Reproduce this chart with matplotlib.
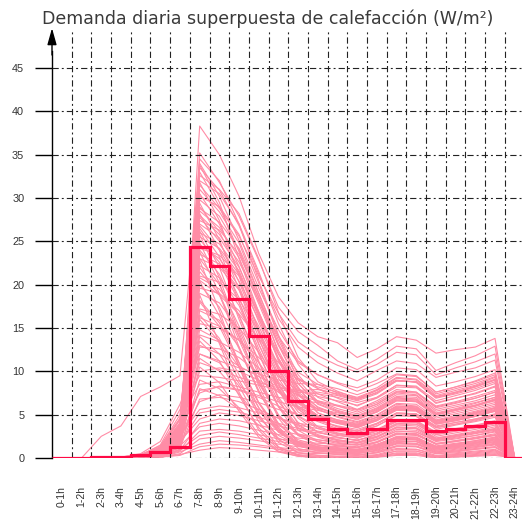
import numpy as np
import matplotlib
matplotlib.use("Agg")
import matplotlib.pyplot as plt

plt.rcParams['font.family'] = ['Liberation Sans', 'DejaVu Sans']
plt.rcParams['lines.scale_dashes'] = False

title = "Demanda diaria superpuesta de calefacción (W/m²)"
hours = ["0-1h", "1-2h", "2-3h", "3-4h", "4-5h", "5-6h", "6-7h", "7-8h", "8-9h",
         "9-10h", "10-11h", "11-12h", "12-13h", "13-14h", "14-15h", "15-16h",
         "16-17h", "17-18h", "18-19h", "19-20h", "20-21h", "21-22h", "22-23h", "23-24h"]
y_ticks = [0, 5, 10, 15, 20, 25, 30, 35, 40, 45]

# average (thick step line)
average = [0, 0.03, 0.08, 0.15, 0.35, 0.75, 1.3, 24.3, 22.1, 18.3, 14.1, 10.0, 6.6,
           4.46, 3.3, 2.9, 3.3, 4.4, 4.4, 3.1, 3.4, 3.7, 4.1, 0]

# individual daily profiles (thin lines)
daily_profiles = [
    [0,0,0,0,0.1,0.3,1.5,38.3,35.0,30.2,23.6,18.6,15.6,14.0,13.3,11.6,12.6,14.0,13.6,12.1,12.5,12.8,13.8,0],
    [0,0,0,0,0.1,0.5,2.2,35.2,31.8,27.9,22.8,17.4,14.6,13.0,11.2,10.2,11.4,12.9,12.6,10.1,11.0,11.8,12.9,0],
    [0,0,2.5,3.7,7.1,8.2,9.5,33.5,30.9,26.8,21.2,16.1,12.8,11.0,9.8,8.9,10.1,11.2,10.9,9.3,9.9,10.4,11.3,0],
    [0,0,0,0.1,0.4,1.2,3.5,34.0,30.2,25.1,19.6,14.8,11.2,9.6,8.6,7.7,8.6,9.7,9.5,7.6,8.2,8.9,9.8,0],
    [0,0,0,0,0.2,0.8,2.9,33.0,29.0,23.8,18.1,13.0,9.9,8.5,7.5,6.8,7.8,9.0,8.7,6.9,7.4,8.0,8.8,0],
    [0,0,0,0,0.1,0.5,2.4,32.0,30.5,27.0,21.5,15.5,10.8,8.0,6.9,6.0,7.0,8.4,8.2,6.3,6.9,7.4,8.2,0],
    [0,0,0,0.1,0.3,1.0,3.8,31.0,28.4,24.8,19.0,13.6,9.2,7.4,6.5,5.6,6.6,7.9,7.6,5.9,6.4,6.9,7.6,0],
    [0,0,0,0,0.2,0.7,2.6,30.5,27.0,22.1,16.4,11.5,8.0,6.6,5.7,5.1,6.0,7.3,7.2,5.4,5.9,6.4,7.0,0],
    [0,0,0,0,0.1,0.4,1.9,29.8,27.9,24.0,18.5,12.1,7.6,5.9,5.0,4.5,5.4,6.7,6.6,5.0,5.5,6.0,6.6,0],
    [0,0,0,0,0.3,1.1,4.4,29.0,26.1,21.4,15.7,10.6,7.2,5.6,4.8,4.2,5.0,6.3,6.2,4.6,5.1,5.6,6.2,0],
    [0,0,0,0,0.1,0.6,2.7,28.5,26.6,23.1,17.8,12.4,8.2,5.2,4.3,3.8,4.7,6.0,5.9,4.3,4.7,5.3,5.8,0],
    [0,0,0,0,0.2,0.9,3.2,27.8,25.0,20.3,14.8,9.7,6.4,4.9,4.1,3.5,4.4,5.6,5.5,4.0,4.4,4.9,5.4,0],
    [0,0,0,0,0.1,0.5,2.1,27.0,25.4,22.0,16.9,11.2,6.9,4.5,3.6,3.1,4.0,5.2,5.1,3.6,4.1,4.5,5.0,0],
    [0,0,0,0,0.3,1.3,5.0,26.5,23.2,18.5,13.1,8.4,5.3,4.2,3.4,2.9,3.7,4.9,4.8,3.3,3.8,4.2,4.7,0],
    [0,0,0,0,0.1,0.4,1.8,26.0,24.7,21.6,16.2,10.1,5.7,3.6,2.8,2.4,3.2,4.4,4.3,2.9,3.4,3.8,4.3,0],
    [0,0,0,0,0.2,0.8,3.0,25.2,22.6,18.0,12.6,7.8,4.8,3.4,2.7,2.3,3.1,4.2,4.1,2.7,3.1,3.6,4.0,0],
    [0,0,0,0,0.1,0.5,2.3,24.6,23.0,19.8,14.4,8.6,4.6,3.0,2.4,2.0,2.8,3.9,3.9,2.5,2.9,3.3,3.8,0],
    [0,0,0,0,0.2,0.9,3.6,24.0,21.2,16.4,11.0,6.5,3.7,2.7,2.1,1.8,2.5,3.6,3.5,2.2,2.6,3.0,3.4,0],
    [0,0,0,0,0.1,0.4,1.6,23.5,22.4,19.5,13.9,7.9,3.9,2.4,1.8,1.5,2.2,3.3,3.2,2.0,2.4,2.8,3.2,0],
    [0,0,0,0,0.3,1.0,4.0,23.0,20.0,15.2,10.0,5.9,3.4,2.5,2.0,1.7,2.4,3.5,3.4,2.1,2.5,2.9,3.3,0],
    [0,0,0,0,0.1,0.6,2.5,22.2,20.8,17.6,12.2,6.8,3.2,1.9,1.4,1.2,1.8,2.8,2.8,1.6,2.0,2.3,2.7,0],
    [0,0,0,0,0.2,0.8,3.3,21.5,18.9,14.0,9.0,5.0,2.7,1.9,1.4,1.2,1.8,2.8,2.7,1.6,1.9,2.3,2.6,0],
    [0,0,0,0,0.1,0.5,2.0,20.8,19.5,16.5,11.2,5.9,2.6,1.5,1.1,0.9,1.5,2.4,2.4,1.3,1.6,1.9,2.3,0],
    [0,0,0,0,0.2,0.7,2.8,20.0,17.4,12.6,7.6,3.9,1.9,1.3,0.9,0.8,1.3,2.2,2.1,1.1,1.4,1.7,2.0,0],
    [0,0,0,0,0.1,0.4,1.7,19.0,17.9,14.8,9.6,4.6,1.8,1.0,0.7,0.6,1.1,1.9,1.9,0.9,1.2,1.5,1.8,0],
    [0,0,0,0,0.2,0.9,3.1,18.2,15.6,11.0,6.3,3.0,1.4,0.9,0.6,0.5,0.9,1.7,1.6,0.8,1.0,1.3,1.6,0],
    [0,0,0,0,0.1,0.5,2.2,17.0,15.9,12.8,7.8,3.4,1.1,0.6,0.4,0.3,0.7,1.4,1.4,0.6,0.8,1.1,1.3,0],
    [0,0,0,0,0.1,0.6,2.6,16.0,13.4,9.0,4.9,2.1,0.9,0.6,0.4,0.3,0.6,1.3,1.3,0.5,0.7,1.0,1.2,0],
    [0,0,0,0,0.1,0.3,1.5,14.8,13.6,10.5,5.8,2.2,0.6,0.3,0.2,0.2,0.4,1.0,1.0,0.3,0.5,0.7,0.9,0],
    [0,0,0,0,0.1,0.5,2.0,13.5,11.2,7.2,3.5,1.2,0.4,0.2,0.1,0.1,0.3,0.8,0.8,0.2,0.4,0.6,0.8,0],
    [0,0,0,0,0.1,0.3,1.2,12.0,11.0,8.3,4.2,1.3,0.3,0.1,0.1,0,0.2,0.6,0.6,0.1,0.3,0.4,0.6,0],
    [0,0,0,0,0.1,0.4,1.6,10.5,8.7,5.4,2.4,0.7,0.2,0.1,0,0,0.1,0.4,0.4,0.1,0.2,0.3,0.4,0],
    [0,0,0,0,0,0.2,1.0,9.0,8.0,5.8,2.7,0.8,0.2,0,0,0,0.1,0.3,0.3,0,0.1,0.2,0.3,0],
    [0,0,0,0,0.2,1.0,3.8,13.0,12.0,10.6,9.4,8.2,7.6,7.4,7.0,6.4,7.0,8.4,8.3,6.6,7.2,7.8,8.6,0],
    [0,0,0,0,0.1,0.7,3.0,11.0,10.2,9.3,8.7,8.1,7.8,7.9,7.4,6.8,7.5,8.9,8.8,7.0,7.5,8.2,9.0,0],
    [0,0,0,0.1,0.4,1.4,4.6,8.5,8.8,8.2,7.6,7.0,6.6,6.4,6.0,5.5,6.2,7.6,7.5,5.8,6.3,6.9,7.6,0],
    [0,0,0,0,0.2,0.9,3.4,7.5,8.3,7.9,7.2,6.5,5.9,5.5,5.0,4.6,5.3,6.6,6.5,5.0,5.5,6.0,6.7,0],
    [0,0,0,0,0.1,0.5,2.4,6.5,7.3,7.0,6.4,5.6,5.0,4.6,4.2,3.8,4.5,5.8,5.7,4.3,4.7,5.2,5.8,0],
    [0,0,0,0,0.1,0.6,2.6,5.6,6.0,5.8,5.2,4.6,4.0,3.7,3.4,3.1,3.7,4.9,4.8,3.5,3.9,4.3,4.9,0],
    [0,0,0,0,0.1,0.4,1.9,4.5,5.2,4.9,4.3,3.7,3.2,2.9,2.6,2.3,2.9,4.0,3.9,2.7,3.1,3.5,4.0,0],
    [0,0,0,0,0,0.3,1.4,3.6,4.0,3.7,3.2,2.7,2.3,2.1,1.9,1.7,2.2,3.1,3.0,2.0,2.3,2.6,3.1,0],
    [0,0,0,0,0,0.2,1.0,2.6,3.0,2.7,2.3,1.9,1.6,1.5,1.3,1.2,1.6,2.4,2.3,1.4,1.7,2.0,2.4,0],
    [0,0,0,0,0,0.1,0.7,1.6,2.0,1.8,1.5,1.2,1.0,0.9,0.8,0.7,1.0,1.7,1.6,0.9,1.1,1.3,1.6,0],
    [0,0,0,0,0,0.1,0.4,0.9,1.2,1.1,0.9,0.7,0.6,0.5,0.5,0.4,0.6,1.1,1.0,0.5,0.6,0.8,1.0,0],
    [0,0,0,0,0.1,0.6,2.8,31.5,28.8,25.6,21.0,16.7,13.4,11.8,10.7,9.9,10.8,12.2,11.9,9.6,10.4,11.1,12.0,0],
    [0,0,0,0,0.2,0.9,3.6,28.0,25.8,22.6,18.2,14.0,11.0,9.6,8.7,8.1,9.0,10.4,10.2,8.3,8.8,9.4,10.2,0],
    [0,0,0,0,0.1,0.5,2.2,26.8,24.0,20.4,16.0,12.0,9.2,8.0,7.3,6.7,7.6,8.9,8.8,7.1,7.6,8.2,9.0,0],
    [0,0,0,0,0.2,0.8,3.0,22.8,17.0,10.5,5.0,1.8,0.6,0.3,0.2,0.1,0.3,0.8,0.8,0.2,0.4,0.5,0.7,0],
    [0,0,0,0,0.1,0.5,2.1,18.8,13.2,7.6,3.2,1.0,0.3,0.1,0.1,0,0.2,0.5,0.5,0.1,0.2,0.3,0.5,0],
    [0,0,0,0,0.3,1.2,4.5,25.8,20.8,14.5,8.3,3.6,1.4,0.8,0.6,0.5,0.9,1.6,1.6,0.7,0.9,1.2,1.5,0],
    [0,0,0,0,0.1,0.4,2.0,34.5,32.0,27.0,20.5,14.2,9.6,7.0,6.0,5.3,6.2,7.5,7.3,5.6,6.1,6.6,7.3,0],
    [0,0,0,0,0.2,0.7,2.9,33.8,29.5,23.0,16.8,11.4,7.4,5.6,4.7,4.1,4.9,6.2,6.0,4.4,4.9,5.4,6.0,0],
    [0,0,0,0,0.1,0.5,2.3,32.6,31.0,28.2,23.0,16.8,11.6,8.8,7.7,6.9,7.8,9.2,9.0,7.2,7.8,8.4,9.3,0],
    [0,0,0,0,0.3,1.1,4.1,31.8,27.4,21.0,14.6,9.2,5.8,4.4,3.6,3.1,3.9,5.1,5.0,3.5,3.9,4.4,4.9,0],
    [0,0,0,0,0.1,0.6,2.6,30.2,29.0,25.8,20.2,14.0,9.0,6.5,5.5,4.9,5.8,7.1,7.0,5.2,5.7,6.3,7.0,0],
    [0,0,0,0,0.2,0.8,3.1,29.4,25.2,19.4,13.2,8.0,4.9,3.6,2.9,2.5,3.2,4.3,4.2,2.8,3.2,3.7,4.2,0],
    [0,0,0,0,0.1,0.5,2.0,28.8,27.2,24.2,19.0,13.2,8.6,6.2,5.3,4.7,5.6,6.9,6.8,5.0,5.5,6.0,6.7,0],
    [0,0,0,0,0.2,0.9,3.4,28.2,24.0,18.0,12.0,7.0,4.1,3.0,2.4,2.0,2.7,3.8,3.7,2.3,2.7,3.1,3.6,0],
    [0,0,0,0,0.1,0.4,1.8,27.4,26.3,23.5,18.6,13.0,8.6,6.3,5.4,4.8,5.7,7.0,6.8,5.1,5.6,6.1,6.8,0],
    [0,0,0,0,0.2,0.7,2.7,26.2,22.0,16.0,10.4,6.0,3.5,2.6,2.1,1.8,2.4,3.5,3.4,2.1,2.5,2.9,3.3,0],
    [0,0,0,0,0.1,0.5,2.2,25.5,24.2,21.2,16.6,11.5,7.4,5.2,4.4,3.9,4.7,6.0,5.9,4.2,4.6,5.1,5.7,0],
    [0,0,0,0,0.2,0.8,3.2,24.8,20.2,14.1,8.8,4.8,2.6,1.9,1.5,1.3,1.9,2.9,2.8,1.7,2.0,2.4,2.8,0],
    [0,0,0,0,0.1,0.6,2.4,24.2,23.4,21.0,16.8,12.0,8.0,5.8,5.0,4.4,5.3,6.6,6.5,4.8,5.3,5.8,6.4,0],
    [0,0,0,0,0.3,1.0,3.7,23.8,19.0,12.8,7.6,4.0,2.1,1.5,1.2,1.0,1.5,2.5,2.4,1.3,1.6,2.0,2.4,0],
    [0,0,0,0,0.1,0.4,1.9,23.0,22.0,19.4,15.2,10.4,6.6,4.8,4.1,3.6,4.4,5.7,5.6,4.0,4.4,4.9,5.5,0],
    [0,0,0,0,0.2,0.7,2.8,22.0,18.8,13.6,8.6,4.9,2.8,2.1,1.7,1.5,2.1,3.1,3.0,1.9,2.2,2.6,3.0,0],
    [0,0,0,0,0.1,0.5,2.1,21.0,20.3,18.3,14.6,10.2,6.6,4.9,4.2,3.7,4.5,5.8,5.7,4.1,4.5,5.0,5.6,0],
    [0,0,0,0,0.2,0.8,3.0,20.4,16.4,11.0,6.4,3.2,1.6,1.1,0.9,0.8,1.3,2.2,2.1,1.1,1.4,1.7,2.1,0],
    [0,0,0,0,0.1,0.4,1.7,19.6,19.0,17.0,13.6,9.6,6.3,4.7,4.0,3.5,4.3,5.6,5.5,3.9,4.3,4.8,5.4,0],
    [0,0,0,0,0.2,0.6,2.5,18.0,15.2,10.6,6.4,3.4,1.8,1.3,1.0,0.9,1.4,2.3,2.2,1.2,1.5,1.8,2.2,0],
    [0,0,0,0,0.1,0.5,2.0,17.2,16.6,15.0,12.2,8.8,6.0,4.6,4.0,3.6,4.3,5.5,5.4,3.9,4.3,4.8,5.4,0],
    [0,0,0,0,0.2,0.7,2.7,16.5,13.8,9.6,5.8,3.1,1.7,1.2,1.0,0.9,1.3,2.2,2.1,1.2,1.4,1.7,2.1,0],
    [0,0,0,0,0.1,0.4,1.6,15.5,15.0,13.6,11.0,8.0,5.6,4.3,3.7,3.3,4.0,5.2,5.1,3.7,4.1,4.5,5.1,0],
    [0,0,0,0,0.2,0.6,2.3,14.0,12.0,8.6,5.4,3.0,1.8,1.3,1.1,1.0,1.4,2.3,2.2,1.3,1.5,1.8,2.2,0],
    [0,0,0,0,0.1,0.5,1.9,12.8,12.6,11.6,9.8,7.6,5.8,4.9,4.4,4.0,4.7,5.9,5.8,4.3,4.7,5.2,5.8,0],
    [0,0,0,0,0.1,0.4,1.6,11.5,10.0,7.4,4.6,2.6,1.5,1.1,0.9,0.8,1.2,2.0,1.9,1.1,1.3,1.6,1.9,0],
    [0,0,0,0,0.1,0.6,2.4,10.0,10.4,10.0,9.0,7.6,6.3,5.7,5.2,4.8,5.5,6.8,6.7,5.1,5.6,6.1,6.8,0],
    [0,0,0,0,0.1,0.3,1.3,8.0,7.2,5.6,3.8,2.3,1.4,1.0,0.9,0.8,1.1,1.8,1.7,1.0,1.2,1.4,1.7,0],
    [0,0,0,0,0.1,0.5,2.1,7.8,8.2,7.8,7.0,6.0,5.0,4.5,4.1,3.8,4.4,5.6,5.5,4.1,4.5,4.9,5.5,0],
    [0,0,0,0,0,0.3,1.2,6.8,7.0,6.5,5.6,4.6,3.8,3.4,3.1,2.8,3.3,4.4,4.3,3.0,3.3,3.7,4.2,0],
    [0,0,0,0,0.1,0.4,1.7,5.2,5.6,5.3,4.7,4.0,3.4,3.1,2.8,2.6,3.1,4.2,4.1,2.8,3.2,3.5,4.0,0],
    [0,0,0,0,0,0.2,0.9,4.0,4.5,4.3,3.8,3.2,2.7,2.5,2.3,2.1,2.5,3.5,3.4,2.3,2.6,2.9,3.4,0],
    [0,0,0,0,0,0.2,0.8,3.1,3.3,3.1,2.7,2.2,1.9,1.7,1.6,1.5,1.8,2.7,2.6,1.6,1.9,2.2,2.6,0],
    [0,0,0,0,0,0.1,0.5,2.2,2.5,2.3,2.0,1.6,1.3,1.2,1.1,1.0,1.3,2.0,1.9,1.1,1.3,1.5,1.9,0],
    [0,0,0,0,0,0.1,0.3,1.3,1.6,1.5,1.3,1.0,0.8,0.7,0.7,0.6,0.8,1.4,1.3,0.7,0.8,1.0,1.3,0],
    [0,0,0,0,0.3,1.5,5.6,9.5,9.3,8.9,8.4,7.9,7.6,7.6,7.2,6.6,7.4,8.9,8.8,7.0,7.6,8.3,9.1,0],
    [0,0,0,0.1,0.5,1.9,6.2,12.0,11.2,10.4,9.7,9.0,8.6,8.5,8.0,7.3,8.1,9.6,9.4,7.6,8.2,8.8,9.6,0],
    [0,0,0,0,0.2,0.8,3.4,20.5,18.8,16.6,13.8,11.0,9.0,8.2,7.6,7.0,7.9,9.3,9.1,7.4,8.0,8.6,9.4,0],
    [0,0,0,0,0.1,0.6,2.5,16.2,15.2,13.6,11.6,9.4,7.8,7.1,6.6,6.1,6.9,8.2,8.1,6.4,6.9,7.5,8.3,0],
    [0,0,0,0,0.1,0.5,2.2,14.2,13.4,12.2,10.4,8.6,7.2,6.6,6.1,5.6,6.4,7.7,7.6,6.0,6.5,7.1,7.8,0],
]

thin_color = "#FF8CA6"
thick_color = "#FF0A45"
text_color = "#333333"

fig = plt.figure(figsize=(5.22, 5.20), dpi=100)
W, H = 522, 520
ax_left, ax_right, ax_bottom, ax_top = 52, 522, 458, 29
ax = fig.add_axes([ax_left / W, (H - ax_bottom) / H,
                   (ax_right - ax_left) / W, (ax_bottom - ax_top) / H])

n = len(hours)
centers = np.arange(n) + 0.5
for prof in daily_profiles:
    ax.plot(centers, prof, color=thin_color, lw=0.8, zorder=1.5)

ax.stairs(average, np.arange(n + 1), baseline=None, color=thick_color, lw=2.3, zorder=3)

ax.set_xlim(0, 23.87)
ax.set_ylim(0, 49.5)

ax.set_xticks(centers)
ax.set_xticklabels(hours, rotation=90, fontsize=7.5, color=text_color, va='top')
ax.set_xticks(np.arange(1, n), minor=True)
ax.tick_params(axis='x', which='both', length=0, pad=20)

ax.set_yticks(y_ticks)
ax.set_yticklabels([str(v) for v in y_ticks], fontsize=7.8, color=text_color)
ax.tick_params(axis='y', length=12.5, width=1, color='black', pad=7.5, direction='out')

grid_style = dict(color='#222222', lw=0.8, linestyle=(0, (4.5, 2.2, 1.4, 2.2)))
ax.set_axisbelow(False)
ax.grid(axis='x', which='minor', **grid_style)
ax.grid(axis='y', which='major', **grid_style)
ax.grid(axis='x', which='major', visible=False)

for s in ['top', 'right', 'bottom']:
    ax.spines[s].set_visible(False)
ax.spines['left'].set_color('black')
ax.spines['left'].set_linewidth(1.0)
ax.spines['left'].set_bounds(0, 47)

ax.annotate('', xy=(0, 49.6), xytext=(0, 46.5), xycoords='data',
            arrowprops=dict(arrowstyle='-|>,head_length=1.0,head_width=0.28',
                            color='black', lw=1.0, shrinkA=0, shrinkB=0),
            annotation_clip=False, zorder=5)

fig.text(42 / W, 1 - 19 / H, title, fontsize=12.5, color="#3a3a3a", ha='left', va='center',
         family=['DejaVu Sans'])

fig.savefig("out.png", dpi=100)
